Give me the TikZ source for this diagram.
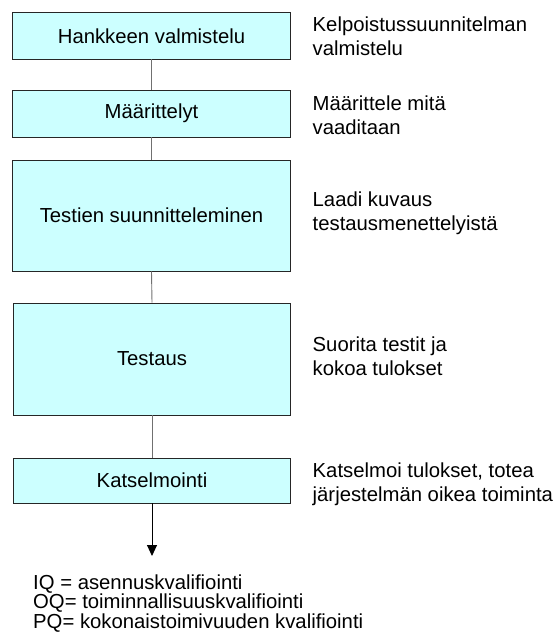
\documentclass[tikz,border=0pt]{standalone}
\usepackage{fontspec}
\setmainfont{Liberation Sans}
\usetikzlibrary{arrows.meta}
\definecolor{boxfill}{HTML}{CCFFFF}
\definecolor{linkgray}{HTML}{707070}
% invisible strut fixing the height of a block's first line
\newcommand{\firstline}{\rule{0pt}{18pt}}
\begin{document}
\begin{tikzpicture}[x=1pt,y=-1pt,
  stage/.style={draw=black!85, line width=0.9pt, fill=boxfill, inner sep=0pt,
    font=\fontsize{20.3}{24}\selectfont},
  note/.style={anchor=north west, inner sep=0pt, align=left,
    font=\fontsize{20.3}{24.5}\selectfont},
  legend/.style={anchor=north west, inner sep=0pt, align=left,
    font=\fontsize{20.3}{17.6}\selectfont},
  link/.style={draw=linkgray, line width=0.9pt},
  flowout/.style={draw=black, line width=0.9pt, -{Triangle[width=10pt,length=11pt]}}]
  \useasboundingbox (0,0) rectangle (559,641);

  % process stages
  \node[stage, minimum width=277.5pt, minimum height=46.5pt] (s1) at (151.5,35.75) {Hankkeen valmistelu};
  \node[stage, minimum width=277.5pt, minimum height=47pt] (s2) at (151.5,113.5) {Määrittelyt};
  \node[stage, minimum width=277.5pt, minimum height=111pt] (s3) at (151.5,215.5) {Testien suunnitteleminen};
  \node[stage, minimum width=277.5pt, minimum height=112pt] (s4) at (152,359) {Testaus};
  \node[stage, minimum width=277.5pt, minimum height=45pt] (s5) at (152,480.5) {Katselmointi};

  % connectors between stages
  \draw[link] (s1.south) -- (s2.north);
  \draw[link] (s2.south) -- (s3.north);
  \draw[link] (s3.south) -- (s4.north);
  \draw[link] (s4.south) -- (s5.north);
  \coordinate (end) at (s5.south |- 0,556);
  \draw[flowout] (s5.south) -- (end);

  % descriptions beside the stages
  \node[note] (d1) at (312.5,13) {\firstline Kelpoistussuunnitelman\\valmistelu};
  \node[note] (d2) at (312.5,92) {\firstline Määrittele mitä\\vaaditaan};
  \node[note] (d3) at (312.5,188) {\firstline Laadi kuvaus\\testausmenettelyistä};
  \node[note] (d4) at (312.5,333) {\firstline Suorita testit ja\\kokoa tulokset};
  \node[note] (d5) at (312.5,459) {\firstline Katselmoi tulokset, totea\\järjestelmän oikea toiminta};

  % abbreviations
  \node[legend] (abbr) at (33,571) {\firstline IQ = asennuskvalifiointi\\OQ= toiminnallisuuskvalifiointi\\PQ= kokonaistoimivuuden kvalifiointi};
\end{tikzpicture}
\end{document}
